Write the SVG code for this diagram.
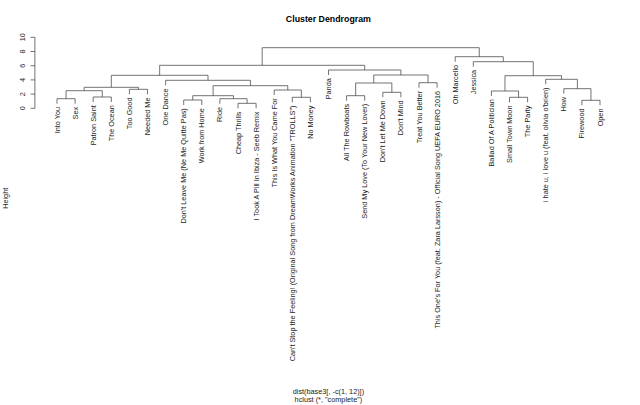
<svg xmlns="http://www.w3.org/2000/svg" width="640" height="405" viewBox="0 0 640 405">
<style>
  text { font-family: "Liberation Sans", Arial, sans-serif; fill: #1a1a1a; }
  .lab { font-size: 7.3px; text-anchor: end; }
  .ax { font-size: 7.3px; text-anchor: middle; }
  .title { font-size: 8.8px; font-weight: bold; text-anchor: middle; fill: #000; }
  .br { fill: none; stroke: #444; stroke-width: 0.75; }
  .axis { fill: none; stroke: #444; stroke-width: 0.75; }
</style>
<rect x="0" y="0" width="640" height="405" fill="#fff"/>
<text class="title" x="328.4" y="22">Cluster Dendrogram</text>
<g id="y-axis">
  <path class="axis" d="M34.9 108.3 V37.3 M34.9 108.3 H30.6 M34.9 94.1 H30.6 M34.9 79.9 H30.6 M34.9 65.7 H30.6 M34.9 51.5 H30.6 M34.9 37.3 H30.6"/>
  <text class="ax" transform="translate(25.4 108.3) rotate(-90)">0</text>
  <text class="ax" transform="translate(25.4 94.1) rotate(-90)">2</text>
  <text class="ax" transform="translate(25.4 79.9) rotate(-90)">4</text>
  <text class="ax" transform="translate(25.4 65.7) rotate(-90)">6</text>
  <text class="ax" transform="translate(25.4 51.5) rotate(-90)">8</text>
  <text class="ax" transform="translate(25.4 37.3) rotate(-90)">10</text>
</g>
<text class="ax" transform="translate(8 198.3) rotate(-90)">Height</text>
<text class="ax" x="328.4" y="394.2">dist(base3[, -c(1, 12)])</text>
<text class="ax" x="328.4" y="402.3">hclust (*, "complete")</text>
<g id="connectors">
  <path class="br" id="mA" d="M57 103.7 V98.7 H75.1 V103.7"/>
  <path class="br" id="mB" d="M93.2 102 V97 H111.3 V102"/>
  <path class="br" id="mC" d="M66.05 98.7 V90.7 H102.25 V97"/>
  <path class="br" id="mD" d="M129.4 94.3 V89.3 H147.5 V94.3"/>
  <path class="br" id="mE" d="M84.15 90.7 V87.3 H138.45 V89.3"/>
  <path class="br" id="mF" d="M183.7 105 V100 H201.8 V105"/>
  <path class="br" id="mG" d="M238 108.3 V103.3 H256.1 V108.3"/>
  <path class="br" id="mH" d="M219.9 103.7 V98.7 H247.05 V103.3"/>
  <path class="br" id="mI" d="M192.75 100 V95.7 H233.48 V98.7"/>
  <path class="br" id="mJ" d="M292.3 102.3 V97.3 H310.4 V102.3"/>
  <path class="br" id="mK" d="M274.2 95 V90 H301.35 V97.3"/>
  <path class="br" id="mL" d="M213.11 95.7 V85.7 H287.78 V90"/>
  <path class="br" id="mM" d="M165.6 85.3 V80.3 H250.44 V85.7"/>
  <path class="br" id="mN" d="M111.3 87.3 V75.3 H208.02 V80.3"/>
  <path class="br" id="mO" d="M346.6 100.7 V95.7 H364.7 V100.7"/>
  <path class="br" id="mP" d="M382.8 97.3 V92.3 H400.9 V97.3"/>
  <path class="br" id="mQ" d="M355.65 95.7 V83 H391.85 V92.3"/>
  <path class="br" id="mR" d="M419 87.7 V82.7 H437.1 V87.7"/>
  <path class="br" id="mS" d="M373.75 83 V75 H428.05 V82.7"/>
  <path class="br" id="mT" d="M328.5 75 V70 H400.9 V75"/>
  <path class="br" id="mU" d="M159.66 75.3 V65.3 H364.7 V70"/>
  <path class="br" id="mV" d="M509.5 102.3 V97.3 H527.6 V102.3"/>
  <path class="br" id="mW" d="M491.4 96 V91 H518.55 V97.3"/>
  <path class="br" id="mX" d="M581.9 105.3 V100.3 H600 V105.3"/>
  <path class="br" id="mY" d="M563.8 93.7 V88.7 H590.95 V100.3"/>
  <path class="br" id="mZ" d="M545.7 84.3 V79.3 H577.38 V88.7"/>
  <path class="br" id="mAA" d="M504.98 91 V75.7 H561.54 V79.3"/>
  <path class="br" id="mAB" d="M473.3 66.7 V61.7 H533.26 V75.7"/>
  <path class="br" id="mAC" d="M455.2 61.7 V56.7 H503.28 V61.7"/>
  <path class="br" id="mRoot" d="M262.18 65.3 V47.7 H479.24 V56.7"/>
</g>
<g id="leaf01"><text class="lab" transform="translate(59.5 106.9) rotate(-90)">Into You</text></g>
<g id="leaf02"><text class="lab" transform="translate(77.6 106.9) rotate(-90)">Sex</text></g>
<g id="leaf03"><text class="lab" transform="translate(95.7 105.2) rotate(-90)">Patron Saint</text></g>
<g id="leaf04"><text class="lab" transform="translate(113.8 105.2) rotate(-90)">The Ocean</text></g>
<g id="leaf05"><text class="lab" transform="translate(131.9 97.5) rotate(-90)">Too Good</text></g>
<g id="leaf06"><text class="lab" transform="translate(150 97.5) rotate(-90)">Needed Me</text></g>
<g id="leaf07"><text class="lab" transform="translate(168.1 88.5) rotate(-90)">One Dance</text></g>
<g id="leaf08"><text class="lab" transform="translate(186.2 108.2) rotate(-90)">Don't Leave Me (Ne Me Quitte Pas)</text></g>
<g id="leaf09"><text class="lab" transform="translate(204.3 108.2) rotate(-90)">Work from Home</text></g>
<g id="leaf10"><text class="lab" transform="translate(222.4 106.9) rotate(-90)">Ride</text></g>
<g id="leaf11"><text class="lab" transform="translate(240.5 111.5) rotate(-90)">Cheap Thrills</text></g>
<g id="leaf12"><text class="lab" transform="translate(258.6 111.5) rotate(-90)">I Took A Pill In Ibiza - Seeb Remix</text></g>
<g id="leaf13"><text class="lab" transform="translate(276.7 98.2) rotate(-90)">This Is What You Came For</text></g>
<g id="leaf14"><text class="lab" transform="translate(294.8 105.5) rotate(-90)">Can't Stop the Feeling! (Original Song from DreamWorks Animation "TROLLS")</text></g>
<g id="leaf15"><text class="lab" transform="translate(312.9 105.5) rotate(-90)">No Money</text></g>
<g id="leaf16"><text class="lab" transform="translate(331 78.2) rotate(-90)">Panda</text></g>
<g id="leaf17"><text class="lab" transform="translate(349.1 103.9) rotate(-90)">All The Rowboats</text></g>
<g id="leaf18"><text class="lab" transform="translate(367.2 103.9) rotate(-90)">Send My Love (To Your New Lover)</text></g>
<g id="leaf19"><text class="lab" transform="translate(385.3 100.5) rotate(-90)">Don't Let Me Down</text></g>
<g id="leaf20"><text class="lab" transform="translate(403.4 100.5) rotate(-90)">Don't Mind</text></g>
<g id="leaf21"><text class="lab" transform="translate(421.5 90.9) rotate(-90)">Treat You Better</text></g>
<g id="leaf22"><text class="lab" transform="translate(439.6 90.9) rotate(-90)">This One's For You (feat. Zara Larsson) - Official Song UEFA EURO 2016</text></g>
<g id="leaf23"><text class="lab" transform="translate(457.7 64.9) rotate(-90)">Oh Marcello</text></g>
<g id="leaf24"><text class="lab" transform="translate(475.8 69.9) rotate(-90)">Jessica</text></g>
<g id="leaf25"><text class="lab" transform="translate(493.9 99.2) rotate(-90)">Ballad Of A Politician</text></g>
<g id="leaf26"><text class="lab" transform="translate(512 105.5) rotate(-90)">Small Town Moon</text></g>
<g id="leaf27"><text class="lab" transform="translate(530.1 105.5) rotate(-90)">The Party</text></g>
<g id="leaf28"><text class="lab" transform="translate(548.2 87.5) rotate(-90)">i hate u, i love u (feat. olivia o'brien)</text></g>
<g id="leaf29"><text class="lab" transform="translate(566.3 96.9) rotate(-90)">How</text></g>
<g id="leaf30"><text class="lab" transform="translate(584.4 108.5) rotate(-90)">Firewood</text></g>
<g id="leaf31"><text class="lab" transform="translate(602.5 108.5) rotate(-90)">Open</text></g>
</svg>
